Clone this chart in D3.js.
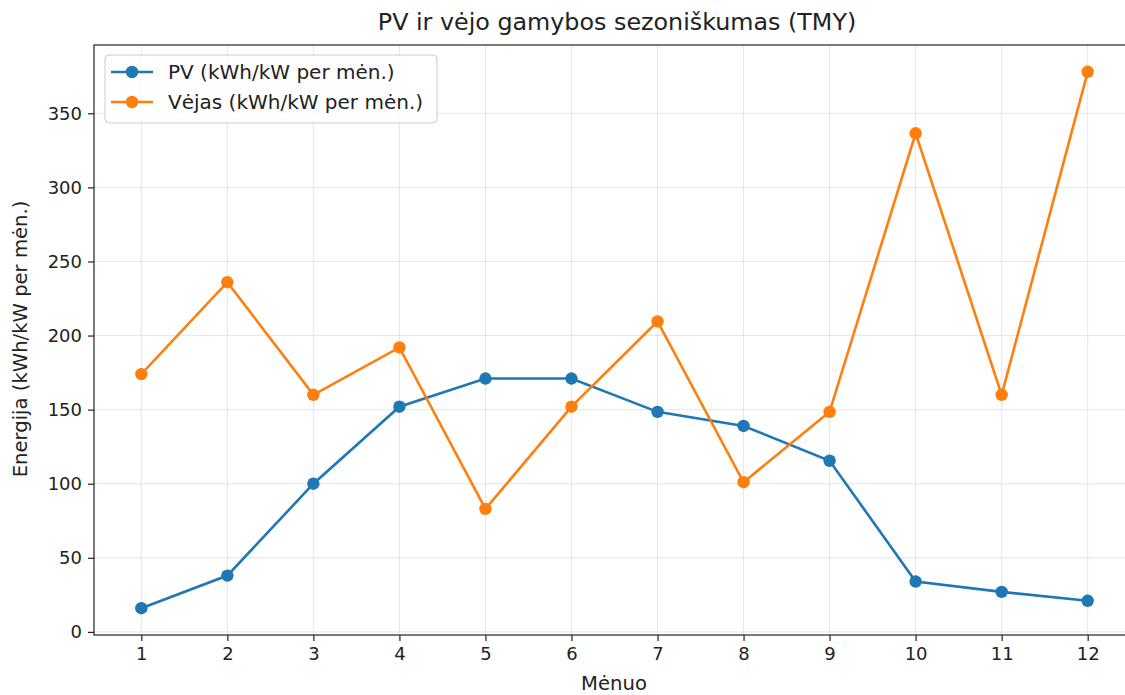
<!DOCTYPE html>
<html>
<head>
<meta charset="utf-8">
<script src="https://cdn.jsdelivr.net/npm/d3@7"></script>
<style>
  body { margin: 0; background: #fff; }
  text { font-family: "DejaVu Sans", sans-serif; fill: #222; }
</style>
</head>
<body>
<div id="chart"></div>
<script>
const months = [1, 2, 3, 4, 5, 6, 7, 8, 9, 10, 11, 12];
const pvValues = [16, 38, 100, 152, 171, 171, 148.5, 139, 115.5, 34, 27, 21];
const windValues = [174, 236, 160, 192, 83, 152, 209.5, 101, 148.5, 336.5, 160, 378];
const yTicks = [0, 50, 100, 150, 200, 250, 300, 350];
const seriesNames = ["PV (kWh/kW per mėn.)", "Vėjas (kWh/kW per mėn.)"];
const colors = ["#1f77b4", "#ff7f0e"];

const W = 1125, H = 695;
const margin = { top: 45, right: -10, bottom: 60, left: 94 };
const width = W - margin.left - margin.right;
const height = H - margin.top - margin.bottom;

const svg = d3.select("#chart").append("svg")
  .attr("width", W).attr("height", H);

const chart = svg.append("g")
  .attr("transform", `translate(${margin.left},${margin.top})`);

const x = d3.scaleLinear().domain([0.45, 12.55]).range([0, width]);

const allVals = pvValues.concat(windValues);
const [lo, hi] = d3.extent(allVals);
const pad = (hi - lo) * 0.05;
const y = d3.scaleLinear().domain([lo - pad, hi + pad]).range([height, 0]);

// grid
chart.append("g").selectAll("line").data(months).enter().append("line")
  .attr("x1", d => x(d)).attr("x2", d => x(d))
  .attr("y1", 0).attr("y2", height)
  .attr("stroke", "#b0b0b0").attr("stroke-opacity", 0.3).attr("stroke-width", 1);
chart.append("g").selectAll("line").data(yTicks).enter().append("line")
  .attr("x1", 0).attr("x2", width)
  .attr("y1", d => y(d)).attr("y2", d => y(d))
  .attr("stroke", "#b0b0b0").attr("stroke-opacity", 0.3).attr("stroke-width", 1);

// axes
const xAxis = chart.append("g")
  .attr("transform", `translate(0,${height})`)
  .call(d3.axisBottom(x).tickValues(months).tickFormat(d3.format("d")).tickSize(6).tickPadding(6));
const yAxis = chart.append("g")
  .call(d3.axisLeft(y).tickValues(yTicks).tickSize(6).tickPadding(6));
[xAxis, yAxis].forEach(a => {
  a.selectAll("text").style("font-size", "18px").style("font-family", "DejaVu Sans");
  a.selectAll(".tick line").attr("stroke", "#222").attr("stroke-width", 1.2);
  a.select(".domain").remove();
});

// spines
chart.append("rect")
  .attr("x", 0).attr("y", 0).attr("width", width).attr("height", height)
  .attr("fill", "none").attr("stroke", "#222").attr("stroke-width", 1.2);

// lines
const series = [pvValues, windValues];
const line = d3.line().x((d, i) => x(months[i])).y(d => y(d));

series.forEach((vals, k) => {
  chart.append("path")
    .datum(vals)
    .attr("d", line)
    .attr("fill", "none")
    .attr("stroke", colors[k])
    .attr("stroke-width", 2.6);
  chart.append("g").selectAll("circle").data(vals).enter().append("circle")
    .attr("cx", (d, i) => x(months[i]))
    .attr("cy", d => y(d))
    .attr("r", 6.2)
    .attr("fill", colors[k]);
});

// title and labels
svg.append("text")
  .attr("x", 617).attr("y", 30)
  .attr("text-anchor", "middle")
  .style("font-size", "23.8px")
  .text("PV ir vėjo gamybos sezoniškumas (TMY)");

svg.append("text")
  .attr("x", 614).attr("y", 690)
  .attr("text-anchor", "middle")
  .style("font-size", "19.6px")
  .text("Mėnuo");

svg.append("text")
  .attr("transform", `translate(27,339) rotate(-90)`)
  .attr("text-anchor", "middle")
  .style("font-size", "19.6px")
  .text("Energija (kWh/kW per mėn.)");

// legend
const legend = chart.append("g").attr("transform", "translate(11,10)");
legend.append("rect")
  .attr("width", 332).attr("height", 68).attr("rx", 4)
  .attr("fill", "#fff").attr("fill-opacity", 0.8)
  .attr("stroke", "#ccc").attr("stroke-width", 1);
const items = legend.selectAll(".item").data(seriesNames).enter().append("g")
  .attr("class", "item")
  .attr("transform", (d, i) => `translate(0,${17 + i * 30})`);
items.append("line")
  .attr("x1", 6).attr("x2", 48).attr("y1", 0).attr("y2", 0)
  .attr("stroke", (d, i) => colors[i]).attr("stroke-width", 2.6);
items.append("circle")
  .attr("cx", 27).attr("cy", 0).attr("r", 6.2)
  .attr("fill", (d, i) => colors[i]);
items.append("text")
  .attr("x", 63).attr("y", 7)
  .style("font-size", "20px")
  .text(d => d);
</script>
</body>
</html>
